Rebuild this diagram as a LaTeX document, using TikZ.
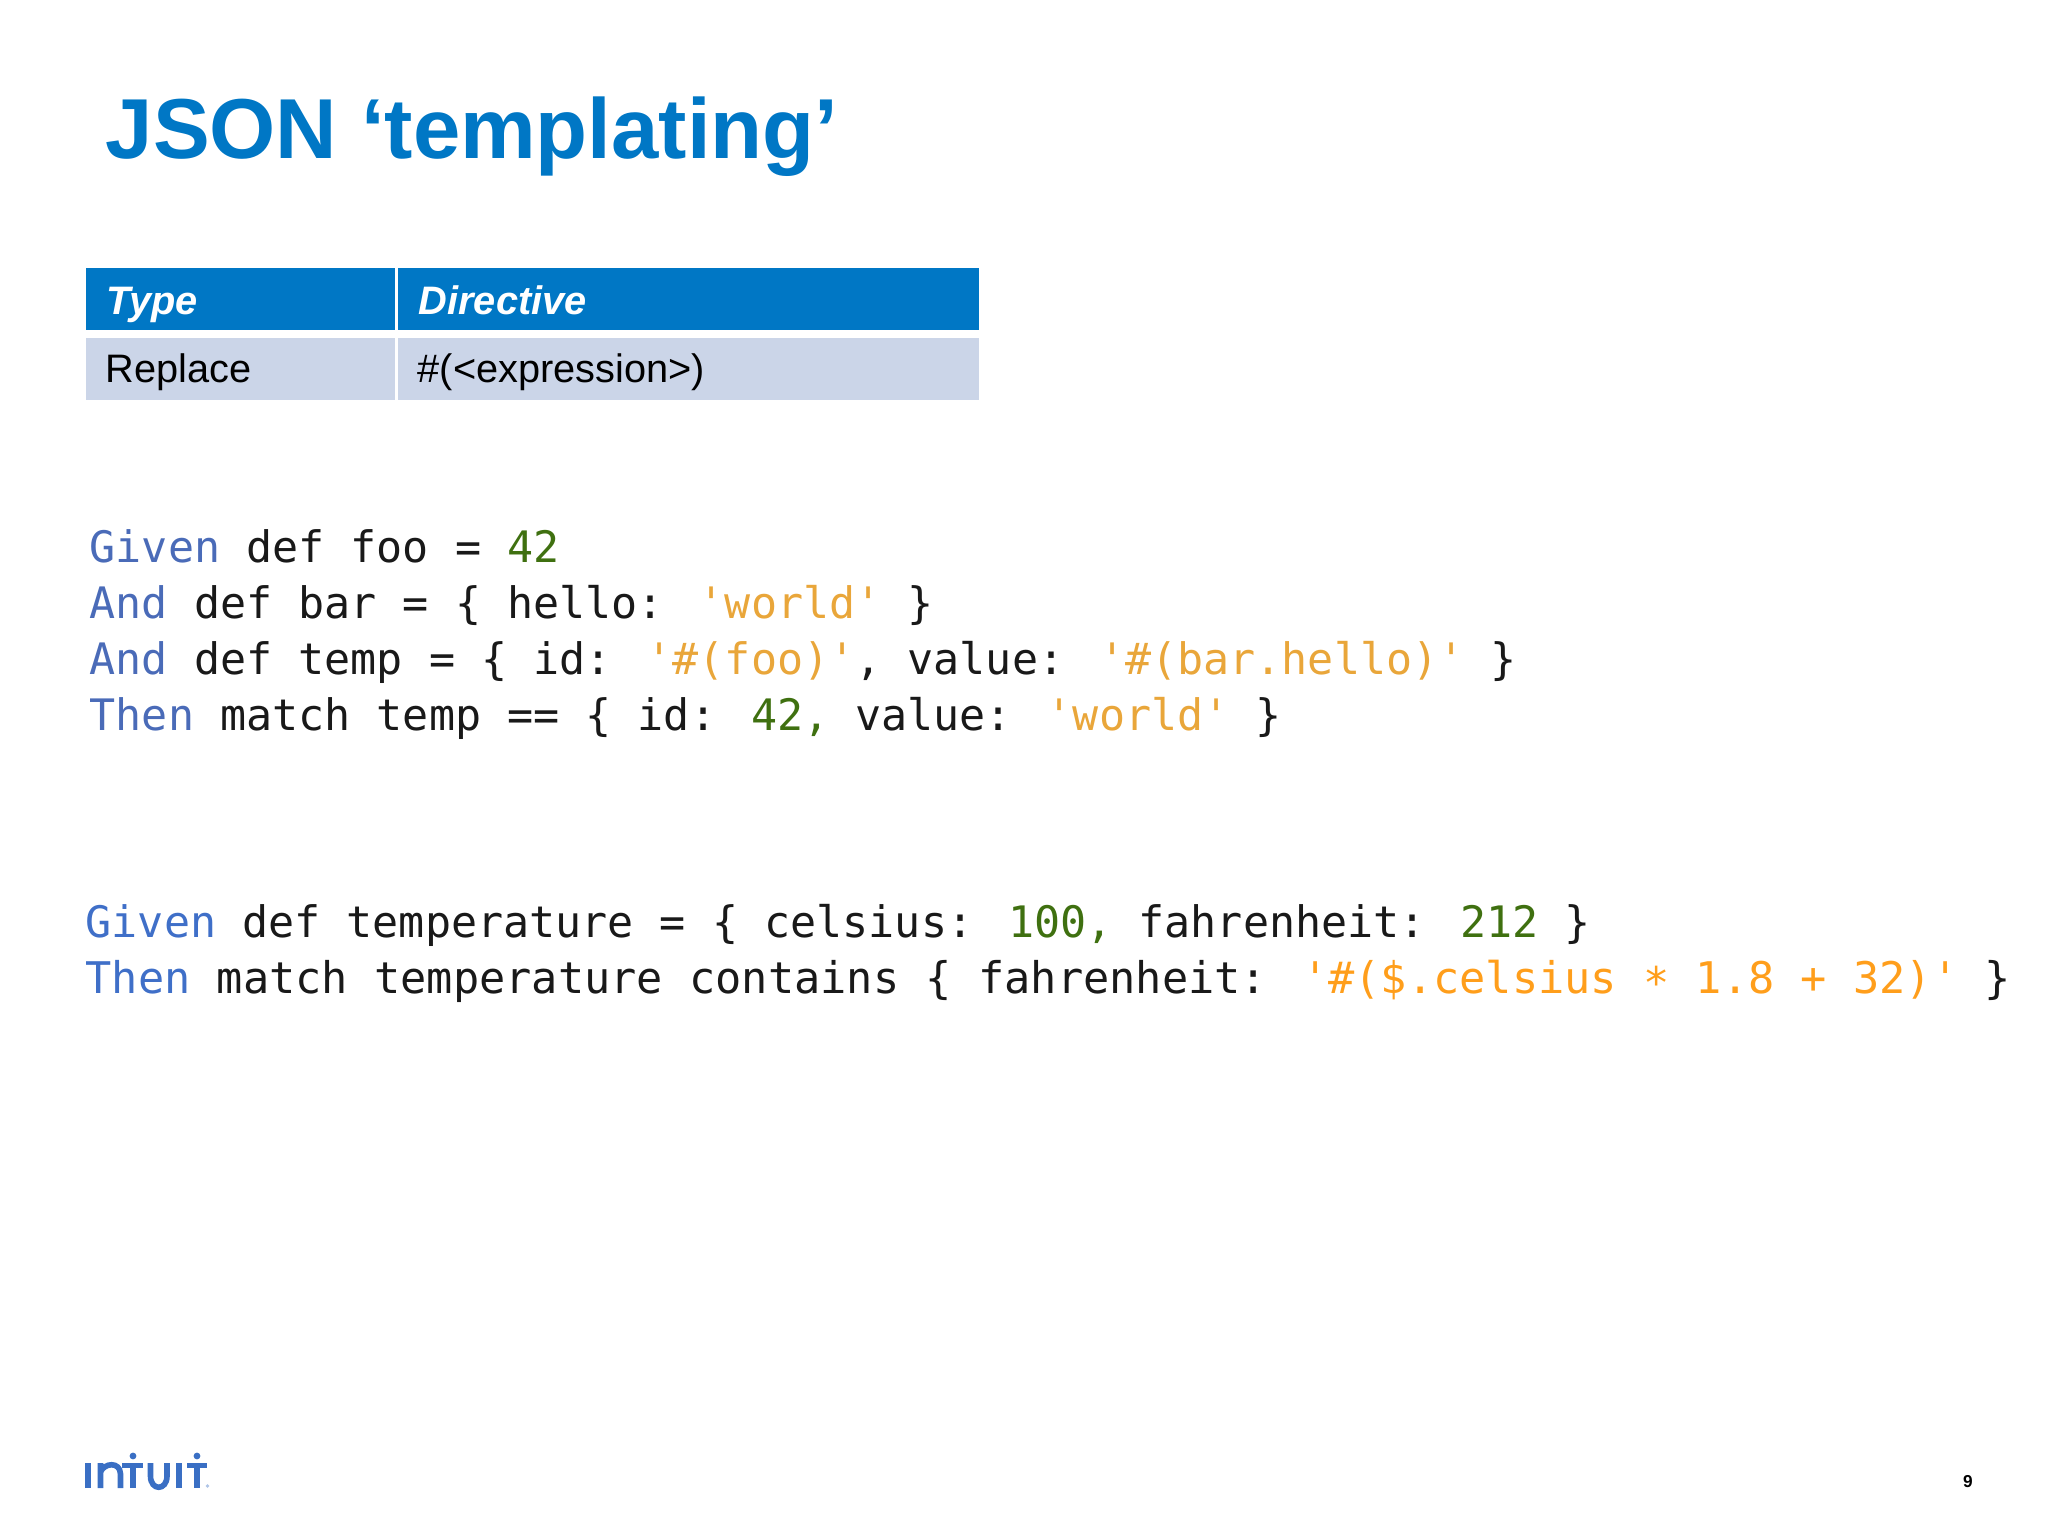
\documentclass[tikz,border=0pt]{standalone}
\usepackage{xcolor}
\usepackage{fontspec}
\setmainfont{Liberation Sans}
\newfontfamily\codefont{DejaVu Sans Mono}
\definecolor{slideblue}{HTML}{0077C5}
\definecolor{rowblue}{HTML}{CBD5E8}
\definecolor{logoblue}{HTML}{3A6FC4}
\definecolor{kwone}{HTML}{4A6BB8}
\definecolor{kwtwo}{HTML}{3F6FC8}
\definecolor{numgreen}{HTML}{3F7010}
\definecolor{strone}{HTML}{E9A63A}
\definecolor{strtwo}{HTML}{FF9E1B}
\newcommand{\kwA}[1]{\textcolor{kwone}{#1}}
\newcommand{\kwB}[1]{\textcolor{kwtwo}{#1}}
\newcommand{\num}[1]{\textcolor{numgreen}{#1}}
\newcommand{\strA}[1]{\textcolor{strone}{#1}}
\newcommand{\strB}[1]{\textcolor{strtwo}{#1}}
\tikzset{
	codeline/.style={anchor=base west,inner sep=0pt,text=black!90,font=\codefont\fontsize{12.33}{14}\selectfont},
	codelinewide/.style={codeline,font=\codefont\fontsize{12.4}{14}\selectfont},
	headcell/.style={anchor=north west,fill=slideblue,text=white,inner ysep=0pt,inner xsep=0.21cm,align=left,text height=0.47cm,text depth=0.15cm,font=\bfseries\itshape\fontsize{11.3}{13}\selectfont},
	bodycell/.style={anchor=north west,fill=rowblue,text=black,inner ysep=0pt,inner xsep=0.2cm,align=left,text height=0.45cm,text depth=0.17cm,font=\fontsize{11.3}{13}\selectfont},
	logostroke/.style={draw=logoblue,line width=1.6pt}
}
\begin{document}
\begin{tikzpicture}[x=0.01cm,y=-0.01cm]
	\useasboundingbox (0,0) rectangle (2048,1536);
	\node[anchor=base west,inner sep=0pt,text=slideblue,font=\bfseries\fontsize{24.2}{29}\selectfont] (title) at (105,158) {JSON ‘templating’};

	\node[headcell,text width=2.67cm] (typehead) at (85,267) {Type};
	\node[headcell,text width=5.39cm] (directivehead) at (397,267) {Directive};
	\node[bodycell,text width=2.69cm] (typecell) at (85,337) {Replace};
	\node[bodycell,text width=5.41cm] (directivecell) at (397,337) {\#(<expression>)};

	\node[codeline] (lineA) at (89,562) {\kwA{Given} def foo = \num{42}};
	\node[codeline] (lineB) at (89,618) {\kwA{And} def bar = \{ hello: \strA{'world'} \}};
	\node[codeline] (lineC) at (89,674) {\kwA{And} def temp = \{ id: \strA{'\#(foo)'}, value: \strA{'\#(bar.hello)'} \}};
	\node[codeline] (lineD) at (89,730) {\kwA{Then} match temp == \{ id: \num{42,} value: \strA{'world'} \}};

	\node[codeline] (lineE) at (85,937) {\kwB{Given} def temperature = \{ celsius: \num{100,} fahrenheit: \num{212} \}};
	\node[codelinewide] (lineF) at (85,993) {\kwB{Then} match temperature contains \{ fahrenheit: \strB{'\#(\$.celsius \raisebox{-.25ex}{*} 1.8 + 32)'} \}};

	\draw[logostroke] (88,1488) -- (88,1463);
	\draw[logostroke] (100.5,1488) -- (100.5,1463) (100.5,1472) .. controls (104,1463) and (120,1461) .. (120.5,1474) -- (120.5,1488);
	\draw[logostroke] (122,1465.5) -- (143,1465.5) (133,1465.5) -- (133,1488);
	\draw[logostroke] (150.5,1463) -- (150.5,1476) .. controls (150.5,1491) and (167,1491) .. (167,1476) -- (167,1463);
	\draw[logostroke] (179,1488) -- (179,1463);
	\draw[logostroke] (187,1465.5) -- (207,1465.5) (197,1465.5) -- (197,1488);
	\fill[logoblue] (133,1456) circle (3.4) (197,1456) circle (3.4);
	\fill[logoblue!40] (207.5,1486) circle (1.8);

	\node[anchor=base,inner sep=0pt,text=black,font=\bfseries\fontsize{4.9}{6}\selectfont] (pagenum) at (1968,1487) {9};
\end{tikzpicture}
\end{document}
